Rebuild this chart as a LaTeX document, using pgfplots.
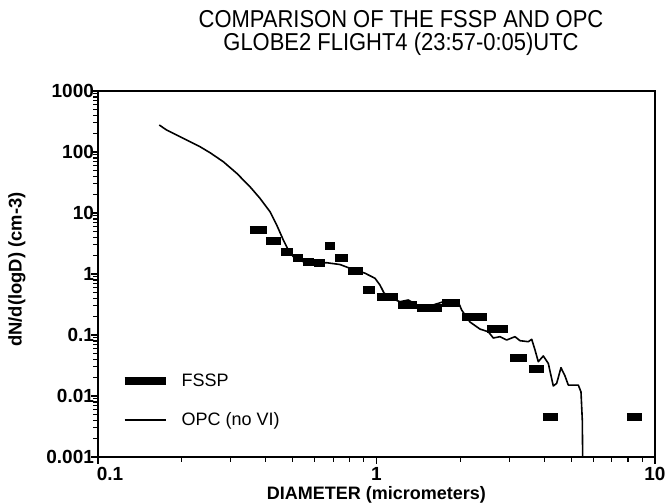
\documentclass[border=0pt]{standalone}
\usepackage{fontspec}
\setmainfont{Liberation Sans}
\newfontfamily\titlefont[FakeStretch=0.9]{Liberation Sans}
\usepackage{pgfplots}
\pgfplotsset{compat=1.18}
\begin{document}
\begin{tikzpicture}
\useasboundingbox (-49pt,-23pt) rectangle (284pt,228.5pt);
\begin{axis}[
  at={(0pt,0pt)}, anchor=south west,
  scale only axis, width=278.5pt, height=183pt,
  xmode=log, ymode=log,
  xmin=0.1, xmax=10, ymin=0.001, ymax=1000,
  xtick={0.1,1,10}, xticklabels={\hspace{12pt}0.1,1,10},
  minor xtick={0.2,0.3,0.4,0.5,0.6,0.7,0.8,0.9,2,3,4,5,6,7,8,9},
  ytick={0.001,0.01,0.1,1,10,100,1000},
  yticklabels={0.001,0.01,0.1,1,10,100,1000},
  minor ytick={0.002,0.003,0.004,0.005,0.006,0.007,0.008,0.009,
               0.02,0.03,0.04,0.05,0.06,0.07,0.08,0.09,
               0.2,0.3,0.4,0.5,0.6,0.7,0.8,0.9,
               2,3,4,5,6,7,8,9,20,30,40,50,60,70,80,90,
               200,300,400,500,600,700,800,900},
  tick align=outside, tick pos=left,
  major tick length=3.5pt, minor tick length=2.5pt,
  every tick/.style={black, line width=0.6pt},
  axis line style={line width=0.9pt},
  ticklabel style={font=\bfseries\fontsize{9.5}{10}\selectfont},
  yticklabel style={xshift=5pt},
  xticklabel style={yshift=2pt},
  title={COMPARISON OF THE FSSP AND OPC\\GLOBE2 FLIGHT4 (23:57-0:05)UTC},
  title style={at={(axis description cs:0.544,1)}, anchor=south, yshift=11.5pt,
    inner sep=0pt, align=center, font=\titlefont\fontsize{12.2}{11.3}\selectfont},
  xlabel={DIAMETER (micrometers)},
  xlabel style={at={(axis description cs:0.5,0)}, anchor=north, yshift=-14.5pt,
    inner sep=0pt, font=\bfseries\fontsize{9}{10}\selectfont},
  ylabel={dN/d(logD) (cm-3)},
  ylabel style={at={(axis description cs:-0.1454,0.512)}, anchor=center,
    inner sep=0pt, font=\bfseries\fontsize{9.2}{10}\selectfont},
  legend style={at={(0.040,0.238)}, anchor=north west, draw=none, fill=none,
    inner sep=0pt, row sep=8.5pt, column sep=5pt,
    font=\fontsize{9}{10}\selectfont,
    nodes={inner sep=1pt, text height=7pt, text depth=2pt}},
  legend cell align=left,
  legend image code/.code={\draw[#1] (0pt,0pt) -- (20.5pt,0pt);},
  unbounded coords=jump,
]
\addplot[black, line width=4pt, line cap=butt] table[row sep=\\] {
x y\\
0.3513 5.26\\ 0.4044 5.26\\ 0.4044 nan\\
0.4011 3.47\\ 0.4540 3.47\\ 0.4540 nan\\
0.4540 2.30\\ 0.5014 2.30\\ 0.5014 nan\\
0.5014 1.86\\ 0.5448 1.86\\ 0.5448 nan\\
0.5448 1.60\\ 0.5967 1.60\\ 0.5967 nan\\
0.5967 1.51\\ 0.6535 1.51\\ 0.6535 nan\\
0.6535 2.88\\ 0.7096 2.88\\ 0.7096 nan\\
0.7096 1.86\\ 0.7902 1.86\\ 0.7902 nan\\
0.7902 1.14\\ 0.8943 1.14\\ 0.8943 nan\\
0.8943 0.537\\ 0.9876 0.537\\ 0.9876 nan\\
1.004 0.412\\ 1.100 0.412\\ 1.100 nan\\
1.100 0.412\\ 1.194 0.412\\ 1.194 nan\\
1.194 0.316\\ 1.297 0.316\\ 1.297 nan\\
1.297 0.316\\ 1.397 0.316\\ 1.397 nan\\
1.397 0.277\\ 1.557 0.277\\ 1.557 nan\\
1.557 0.277\\ 1.719 0.277\\ 1.719 nan\\
1.719 0.335\\ 1.851 0.335\\ 1.851 nan\\
1.851 0.335\\ 1.994 0.335\\ 1.994 nan\\
2.028 0.194\\ 2.258 0.194\\ 2.258 nan\\
2.258 0.194\\ 2.494 0.194\\ 2.494 nan\\
2.494 0.125\\ 2.709 0.125\\ 2.709 nan\\
2.709 0.125\\ 2.967 0.125\\ 2.967 nan\\
3.016 0.0412\\ 3.470 0.0412\\ 3.470 nan\\
3.528 0.0282\\ 3.995 0.0282\\ 3.995 nan\\
3.962 0.00445\\ 4.484 0.00445\\ 4.484 nan\\
7.935 0.00445\\ 8.979 0.00445\\
};
\addlegendentry{FSSP}
\addplot[black, line width=0.8pt, line join=round] table[row sep=\\] {
x y\\
0.1660 277\\ 0.1764 229\\ 0.2024 167.7\\ 0.2324 122.2\\ 0.2525 97.4\\
0.2818 69.3\\ 0.3148 44.8\\ 0.3513 27.0\\ 0.3817 17.4\\ 0.4146 10.5\\
0.4383 6.35\\ 0.4628 3.61\\ 0.4823 2.47\\ 0.5027 1.92\\ 0.5461 1.59\\
0.6100 1.50\\ 0.6627 1.53\\ 0.7395 1.43\\ 0.8031 1.24\\ 0.9094 1.03\\
0.9876 0.851\\ 1.029 0.661\\ 1.064 0.489\\ 1.118 0.409\\ 1.214 0.351\\
1.301 0.375\\ 1.394 0.310\\ 1.557 0.299\\ 1.738 0.351\\ 1.966 0.351\\
2.022 0.257\\ 2.167 0.163\\ 2.353 0.125\\ 2.520 0.113\\ 2.627 0.0893\\
2.776 0.0938\\ 2.935 0.0828\\ 3.143 0.0938\\ 3.276 0.0807\\ 3.509 0.0777\\
3.609 0.0851\\ 3.709 0.0568\\ 3.811 0.0365\\ 3.972 0.0453\\ 4.140 0.0341\\
4.314 0.0146\\ 4.436 0.0161\\ 4.597 0.0291\\ 4.752 0.0213\\ 4.884 0.0151\\
5.305 0.0151\\ 5.424 0.01164\\ 5.483 0.00404\\ 5.500 0.001\\
};
\addlegendentry{OPC (no VI)}
\end{axis}
\end{tikzpicture}
\end{document}
